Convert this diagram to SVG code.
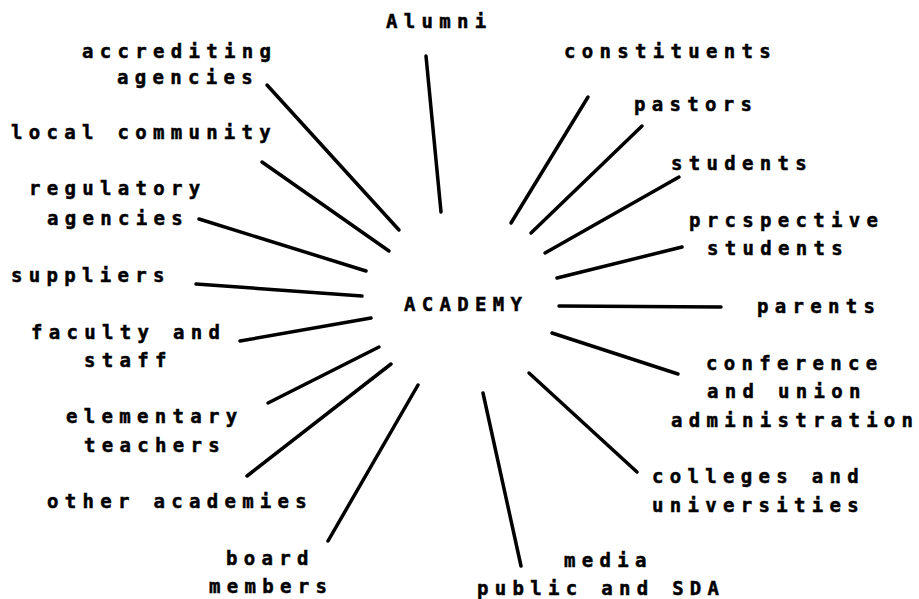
<svg xmlns="http://www.w3.org/2000/svg" width="919" height="599" viewBox="0 0 919 599">
<style>
  text { font-family: "DejaVu Sans Mono", "Liberation Mono", monospace; font-weight: bold; font-size: 19px; letter-spacing: 6.3px; fill: #000; stroke: #000; stroke-width: 0.5; }
  .c line { stroke: #000; stroke-width: 3.5; stroke-linecap: round; }
</style>
<rect width="919" height="599" fill="#fff"/>
<g class="c" id="connectors">
  <line x1="426" y1="56" x2="441" y2="212"/>
  <line x1="267" y1="85" x2="399" y2="230"/>
  <line x1="262" y1="162" x2="389" y2="251"/>
  <line x1="199" y1="219" x2="366" y2="271"/>
  <line x1="196" y1="284" x2="362" y2="296"/>
  <line x1="240" y1="341" x2="371" y2="318"/>
  <line x1="268" y1="403" x2="379" y2="347"/>
  <line x1="247" y1="476" x2="391" y2="364"/>
  <line x1="328" y1="541" x2="418" y2="385"/>
  <line x1="588" y1="97" x2="511" y2="223"/>
  <line x1="642" y1="126" x2="531" y2="233"/>
  <line x1="679" y1="177" x2="545" y2="253"/>
  <line x1="682" y1="247" x2="557" y2="278"/>
  <line x1="559" y1="306" x2="721" y2="307"/>
  <line x1="552" y1="333" x2="678" y2="374"/>
  <line x1="529" y1="373" x2="637" y2="472"/>
  <line x1="483" y1="393" x2="521" y2="566"/>
</g>
<g id="academy"><text x="404" y="311">ACADEMY</text></g>
<g id="alumni"><text x="386" y="28">Alumni</text></g>
<g id="accrediting-agencies"><text x="82" y="58">accrediting</text><text x="117" y="84">agencies</text></g>
<g id="local-community"><text x="11" y="139">local community</text></g>
<g id="regulatory-agencies"><text x="29" y="195">regulatory</text><text x="47" y="225">agencies</text></g>
<g id="suppliers"><text x="11" y="282">suppliers</text></g>
<g id="faculty-staff"><text x="31" y="339">faculty and</text><text x="84" y="367">staff</text></g>
<g id="elementary-teachers"><text x="66" y="423">elementary</text><text x="84" y="452">teachers</text></g>
<g id="other-academies"><text x="47" y="508">other academies</text></g>
<g id="board-members"><text x="226" y="565">board</text><text x="209" y="593">members</text></g>
<g id="constituents"><text x="564" y="58">constituents</text></g>
<g id="pastors"><text x="634" y="111">pastors</text></g>
<g id="students"><text x="671" y="170">students</text></g>
<g id="prospective-students"><text x="689" y="227">prcspective</text><text x="707" y="255">students</text></g>
<g id="parents"><text x="757" y="313">parents</text></g>
<g id="conference"><text x="706" y="370">conference</text><text x="707" y="398">and union</text><text x="671" y="427">administration</text></g>
<g id="colleges"><text x="652" y="483">colleges and</text><text x="652" y="512">universities</text></g>
<g id="media"><text x="564" y="567">media</text><text x="477" y="595">public and SDA</text></g>
</svg>
